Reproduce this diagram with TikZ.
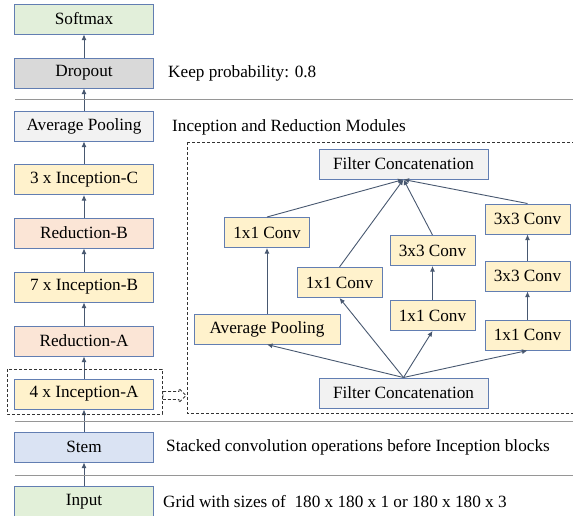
\documentclass[tikz,border=0pt]{standalone}
\usepackage{fontspec}
\setmainfont{Liberation Serif}
\usepackage{tikz}
\usetikzlibrary{arrows.meta}
\usetikzlibrary{positioning}
\definecolor{boxline}{RGB}{98,126,178}
\definecolor{arrline}{RGB}{72,88,112}
\definecolor{sepline}{RGB}{150,150,150}
\definecolor{softfill}{RGB}{226,239,218}
\definecolor{dropfill}{RGB}{217,217,217}
\definecolor{poolfill}{RGB}{242,242,242}
\definecolor{incfill}{RGB}{255,242,204}
\definecolor{redfill}{RGB}{251,229,214}
\definecolor{stemfill}{RGB}{218,227,243}
\definecolor{inputfill}{RGB}{226,240,217}

\tikzset{
  blk/.style={draw=boxline, line width=1pt, minimum width=139pt, minimum height=30pt, inner sep=0pt},
  inner/.style={draw=boxline, line width=1pt, minimum width=85pt, minimum height=30pt, inner sep=0pt, fill=incfill},
  arr/.style={-{Latex[length=5.5pt,width=5pt]}, line width=0.9pt, color=arrline},
  note/.style={anchor=west, inner sep=0pt},
  sep/.style={line width=0.8pt, color=sepline},
  box dash/.style={dashed, dash pattern=on 3pt off 2pt, line width=0.8pt, color=black!80}
}

\begin{document}
\begin{tikzpicture}[x=1pt, y=-1pt, font=\fontsize{17.2}{20}\selectfont]
      \useasboundingbox (0,0) rectangle (573,515);

      % main column
      \node[blk, fill=softfill]  (softmax) at (84, 19)  {Softmax};
      \node[blk, fill=dropfill]  (dropout) at (84, 73)  {Dropout};
      \node[blk, fill=poolfill]  (avgpool) at (84,126)  {Average Pooling};
      \node[blk, fill=incfill]   (incc)    at (84,179.5){3 x Inception-C};
      \node[blk, fill=redfill]   (redb)    at (84,233)  {Reduction-B};
      \node[blk, fill=incfill]   (incb)    at (84,287)  {7 x Inception-B};
      \node[blk, fill=redfill]   (reda)    at (84,341)  {Reduction-A};
      \node[blk, fill=incfill]   (inca)    at (84,394)  {4 x Inception-A};
      \node[blk, fill=stemfill]  (stem)    at (84,447)  {Stem};
      \node[blk, fill=inputfill] (input)   at (84,501.5){Input};

      \draw[arr] (input)   -- (stem);
      \draw[arr] (stem)    -- (inca);
      \draw[arr] (inca)    -- (reda);
      \draw[arr] (reda)    -- (incb);
      \draw[arr] (incb)    -- (redb);
      \draw[arr] (redb)    -- (incc);
      \draw[arr] (incc)    -- (avgpool);
      \draw[arr] (avgpool) -- (dropout);
      \draw[arr] (dropout) -- (softmax);

      % separators and notes
      \draw[sep] (15, 99)  -- (573, 99);
      \draw[sep] (15,421)  -- (573,421);
      \draw[sep] (15,475)  -- (573,475);
      \node[note] (keepnote)  at (168, 73)  {Keep probability: 0.8};
      \node[note] (modnote)   at (172,127)  {Inception and Reduction Modules};
      \node[note] (stemnote)  at (166,447)  {Stacked convolution operations before Inception blocks};
      \node[note] (inputnote) at (163,502)  {Grid with sizes of \ 180 x 180 x 1 or 180 x 180 x 3};

      % module detail
      \draw[box dash] (7,369) rectangle (162,414);
      \draw[box dash] (187,142) rectangle (580,413);
      \draw[box dash] (163,391.5) -- (179,391.5) -- (179,388.5) -- (186,395.5)
                      -- (179,402.5) -- (179,399.5) -- (163,399.5) -- cycle;

      \node[inner, fill=poolfill, minimum width=169pt] (topcat) at (403.5,164) {Filter Concatenation};
      \node[inner, fill=poolfill, minimum width=169pt] (botcat) at (403.5,393) {Filter Concatenation};
      \node[inner, minimum width=146pt] (bpool) at (267,329)   {Average Pooling};
      \node[inner] (bconva)  at (267,232.5) {1x1 Conv};
      \node[inner] (bconvb)  at (339.5,282.5) {1x1 Conv};
      \node[inner] (bconvc)  at (432.5,315.5) {1x1 Conv};
      \node[inner] (bconvd)  at (432.5,250.5) {3x3 Conv};
      \node[inner] (bconve)  at (527.5,335) {1x1 Conv};
      \node[inner] (bconvf)  at (527.5,276) {3x3 Conv};
      \node[inner] (bconvg)  at (527.5,219) {3x3 Conv};

      \draw[arr] (botcat.north) -- (bpool.south);
      \draw[arr] (botcat.north) -- (bconvb.south);
      \draw[arr] (botcat.north) -- (bconvc.south);
      \draw[arr] (botcat.north) -- (bconve.south);
      \draw[arr] (bpool)  -- (bconva);
      \draw[arr] (bconvc) -- (bconvd);
      \draw[arr] (bconve) -- (bconvf);
      \draw[arr] (bconvf) -- (bconvg);
      \draw[arr] (bconva.north) -- (topcat.south);
      \draw[arr] (bconvb.north) -- (topcat.south);
      \draw[arr] (bconvd.north) -- (topcat.south);
      \draw[arr] (bconvg.north) -- (topcat.south);
    \end{tikzpicture}
\end{document}
